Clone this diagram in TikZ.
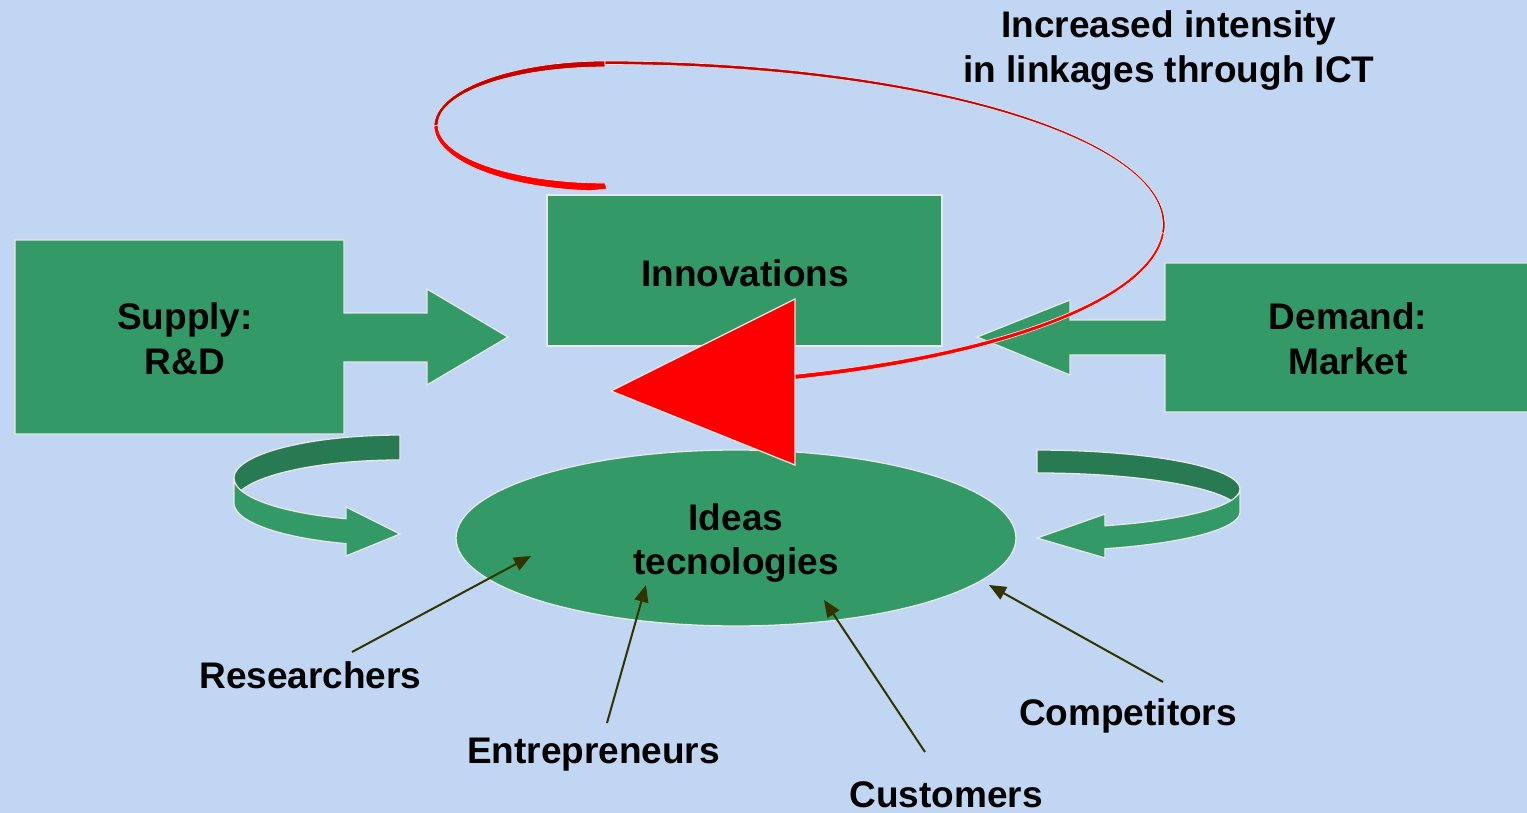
\documentclass[tikz,border=0pt]{standalone}
\usepackage{fontspec}
\setmainfont{Liberation Sans}
\usetikzlibrary{arrows.meta}
\definecolor{bg}{RGB}{192,214,242}
\definecolor{gr}{RGB}{51,153,102}
\definecolor{dgr}{RGB}{40,122,82}
\definecolor{dred}{RGB}{200,0,0}
\definecolor{bred}{RGB}{255,0,0}
\definecolor{olivec}{RGB}{51,51,0}
\definecolor{rim}{RGB}{232,232,232}
\begin{document}
\begin{tikzpicture}[x=1pt,y=-1pt,
  gshape/.style={fill=gr,draw=rim,line width=1.3pt,line join=miter},
  dshape/.style={fill=dgr,draw=rim,line width=1.3pt,line join=miter},
  rshape/.style={fill=bred,draw=rim,line width=0.7pt,line join=miter},
  drshape/.style={fill=dred,draw=rim,line width=0.7pt,line join=miter},
  lbl/.style={font=\fontsize{37}{44}\selectfont\bfseries,anchor=base,inner sep=0pt,text=black},
  pointer/.style={draw=olivec,line width=2pt,-{Triangle[length=17pt,width=14pt]}}]
\useasboundingbox (0,0) rectangle (1527,813);
\clip (0,0) rectangle (1527,813);
\fill[bg] (0,0) rectangle (1527,813);

% Supply box with right arrow
\draw[gshape] (15,240) -- (344,240) -- (344,313) -- (427,313) -- (427,289) -- (508,337) -- (427,385) -- (427,362) -- (344,362) -- (344,434) -- (15,434) -- cycle;
% Innovations box
\draw[gshape] (547,195) rectangle (942,346);
% Demand box with left arrow
\draw[gshape] (1545,263) -- (1165,263) -- (1165,320) -- (1070,320) -- (1070,300) -- (977,337) -- (1070,375) -- (1070,355) -- (1165,355) -- (1165,412) -- (1545,412) -- cycle;

% Ideas ellipse
\fill[gr] (736,538) ellipse[x radius=280,y radius=88];
\draw[rim,line width=1.3pt] (736,538) ellipse[x radius=280,y radius=88];
\node[inner sep=0pt,minimum width=560pt,minimum height=176pt] (ideas) at (736,538) {};

% left curved green arrow (ribbon)
\draw[dshape] plot[domain=180:270,samples=40] ({400+166*cos(\x)},{478+43*sin(\x)})
  -- plot[domain=0:90,samples=40] ({400+166*cos(270-\x)},{503+43*sin(270-\x)}) -- cycle;
\draw[gshape] plot[domain=0:71,samples=40] ({400+166*cos(180-\x)},{478+43*sin(180-\x)})
  -- (346,507) -- (400,534) -- (346,556)
  -- plot[domain=109:180,samples=40] ({400+166*cos(\x)},{503+43*sin(\x)}) -- cycle;

% right curved green arrow (ribbon)
\draw[dshape] plot[domain=-90:0,samples=40] ({1037+203*cos(\x)},{489+39*sin(\x)})
  -- plot[domain=0:90,samples=40] ({1037+203*cos(-\x)},{512+39*sin(-\x)}) -- cycle;
\draw[gshape] plot[domain=0:70.4,samples=40] ({1037+203*cos(\x)},{489+39*sin(\x)})
  -- (1105,514) -- (1037,538) -- (1105,558)
  -- plot[domain=0:70.4,samples=40] ({1037+203*cos(70.4-\x)},{512+39*sin(70.4-\x)}) -- cycle;

% red ribbon, left loop
\draw[drshape] plot[domain=180:270,samples=40] ({605+171*cos(\x)},{126+65*sin(\x)})
  -- plot[domain=0:90,samples=40] ({605+167*cos(270-\x)},{125+58*sin(270-\x)}) -- cycle;
\draw[rshape] plot[domain=95:180,samples=40] ({605+171*cos(\x)},{126+65*sin(\x)})
  -- plot[domain=0:90,samples=40] ({605+167*cos(180-\x)},{125+58*sin(180-\x)})
  -- (607,189) -- cycle;
% red ribbon, big loop
\draw[drshape] plot[domain=-90:3,samples=80] ({605+560*cos(\x)},{225+164*sin(\x)})
  -- plot[domain=0:93,samples=80] ({605+557.5*cos(3-\x)},{224.25+159.75*sin(3-\x)}) -- cycle;
\draw[rshape] plot[domain=3:74,samples=80] ({605+560*cos(\x)},{225+164*sin(\x)})
  -- plot[domain=0:71,samples=80] ({605+557.5*cos(74-\x)},{224.25+159.75*sin(74-\x)}) -- cycle;
% red arrow head
\draw[rshape,line width=1.3pt] (795,299) -- (795,465) -- (611,391) -- cycle;

% texts
\node[lbl] (t1) at (1169,38) {Increased intensity};
\node[lbl] (t2) at (1169,83) {in linkages through ICT};
\node[lbl] (s1) at (185,329) {Supply:};
\node[lbl] (s2) at (185,374) {R\&D};
\node[lbl] (inn) at (745,287) {Innovations};
\node[lbl] (d1) at (1348,329) {Demand:};
\node[lbl] (d2) at (1348,374) {Market};
\node[lbl] (i1) at (736,530) {Ideas};
\node[lbl] (i2) at (736,574) {tecnologies};
\node[lbl] (res) at (310.5,688) {Researchers};
\node[lbl] (ent) at (593.5,763) {Entrepreneurs};
\node[lbl] (cus) at (946,807) {Customers};
\node[lbl] (com) at (1128,725) {Competitors};

% pointer arrows
\coordinate (resA) at (352,652);
\coordinate (resB) at (531,556);
\coordinate (entA) at (607,723);
\coordinate (entB) at (646,585);
\coordinate (cusA) at (925,752);
\coordinate (cusB) at (824,600);
\coordinate (comA) at (1163,682);
\coordinate (comB) at (989,585);
\draw[pointer] (resA) -- (resB);
\draw[pointer] (entA) -- (entB);
\draw[pointer] (cusA) -- (cusB);
\draw[pointer] (comA) -- (comB);
\end{tikzpicture}
\end{document}
